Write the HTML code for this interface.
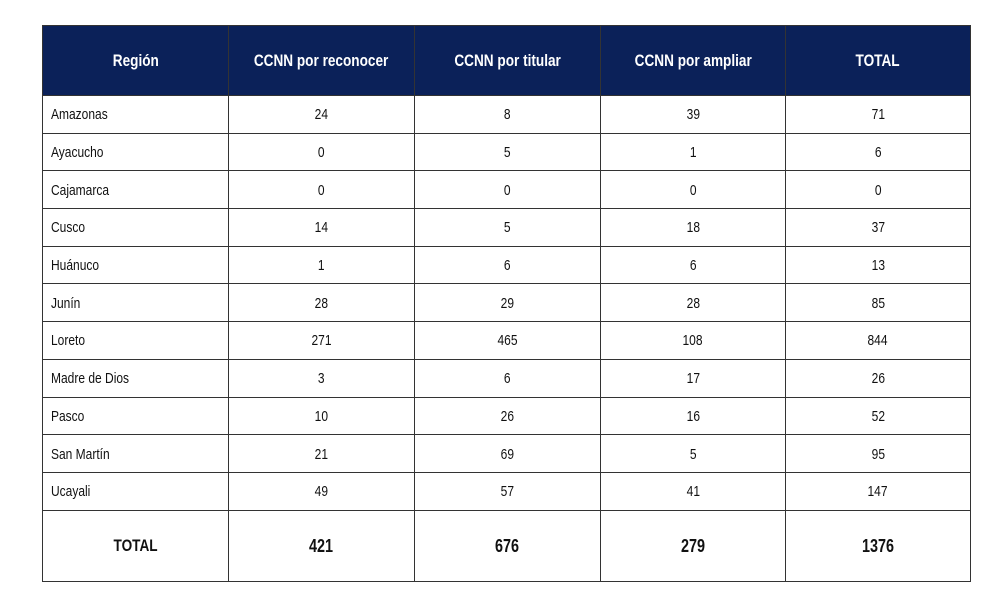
<!DOCTYPE html>
<html><head><meta charset="utf-8"><style>
body{margin:0;background:#fff;width:1000px;height:600px;overflow:hidden}
table{position:absolute;left:42px;top:25px;border-collapse:collapse;table-layout:fixed;width:928px;font-family:"Liberation Sans",sans-serif;font-size:15px;color:#111}
td,th{border:1.3px solid #333;padding:0;text-align:center;white-space:nowrap}
th{background:#0b2159;color:#fff;height:69px;font-size:17px;font-weight:bold}
td{height:35.7px;padding-top:1px}
td span,th span{display:inline-block;transform:scaleX(0.8)}
td:first-child{text-align:left;padding-left:8px}
td:first-child span{transform-origin:left center}
tr.total td{height:69px;font-weight:bold;font-size:18px}
tr.total td:first-child{text-align:center;padding-left:0;font-size:17px}
tr.total td:first-child span{transform-origin:center center}
</style></head><body>
<table>
<colgroup><col style="width:186px"><col style="width:186px"><col style="width:186px"><col style="width:185px"><col style="width:185px"></colgroup>
<tr><th><span>Región</span></th><th><span>CCNN por reconocer</span></th><th><span>CCNN por titular</span></th><th><span>CCNN por ampliar</span></th><th><span>TOTAL</span></th></tr>
<tr><td><span>Amazonas</span></td><td><span>24</span></td><td><span>8</span></td><td><span>39</span></td><td><span>71</span></td></tr>
<tr><td><span>Ayacucho</span></td><td><span>0</span></td><td><span>5</span></td><td><span>1</span></td><td><span>6</span></td></tr>
<tr><td><span>Cajamarca</span></td><td><span>0</span></td><td><span>0</span></td><td><span>0</span></td><td><span>0</span></td></tr>
<tr><td><span>Cusco</span></td><td><span>14</span></td><td><span>5</span></td><td><span>18</span></td><td><span>37</span></td></tr>
<tr><td><span>Huánuco</span></td><td><span>1</span></td><td><span>6</span></td><td><span>6</span></td><td><span>13</span></td></tr>
<tr><td><span>Junín</span></td><td><span>28</span></td><td><span>29</span></td><td><span>28</span></td><td><span>85</span></td></tr>
<tr><td><span>Loreto</span></td><td><span>271</span></td><td><span>465</span></td><td><span>108</span></td><td><span>844</span></td></tr>
<tr><td><span>Madre de Dios</span></td><td><span>3</span></td><td><span>6</span></td><td><span>17</span></td><td><span>26</span></td></tr>
<tr><td><span>Pasco</span></td><td><span>10</span></td><td><span>26</span></td><td><span>16</span></td><td><span>52</span></td></tr>
<tr><td><span>San Martín</span></td><td><span>21</span></td><td><span>69</span></td><td><span>5</span></td><td><span>95</span></td></tr>
<tr><td><span>Ucayali</span></td><td><span>49</span></td><td><span>57</span></td><td><span>41</span></td><td><span>147</span></td></tr>
<tr class="total"><td><span>TOTAL</span></td><td><span>421</span></td><td><span>676</span></td><td><span>279</span></td><td><span>1376</span></td></tr>
</table>
</body></html>
